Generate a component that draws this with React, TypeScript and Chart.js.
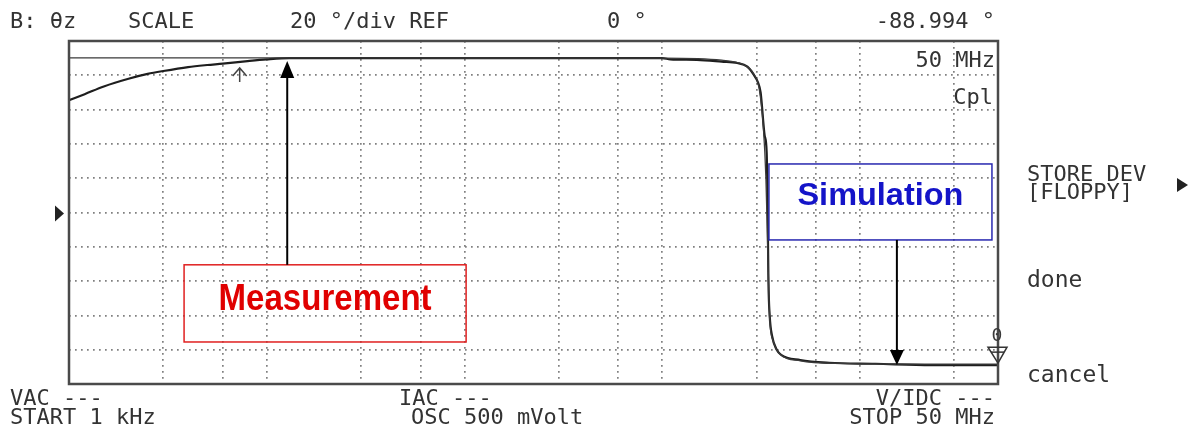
import React, { useEffect, useRef } from "react";
import { Chart, registerables } from "chart.js";

Chart.register(...registerables);

// ---- data (frequency in Hz, phase in degrees) ----
const measFreq = [
  1000, 1200, 1500, 2000, 2500, 3000, 4000, 5000, 6000, 8000, 10000, 13000, 20000,
  50000, 100000, 300000, 1000000, 1100000, 1500000, 2000000, 2400000, 2700000, 2900000,
  3050000, 3150000, 3300000, 3380000, 3420000, 3450000, 3500000, 3600000, 3800000,
  4000000, 5000000, 7000000, 12000000, 23000000, 50000000,
];
const measPhase = [
  65.5, 69, 73.5, 78, 80.8, 82.5, 84.8, 86, 86.8, 88.3, 89.3, 90, 90,
  90, 90, 90, 90, 89.3, 89, 88, 87.2, 85, 80.5,
  76, 70, 45, 35, 0, -40, -60, -72, -80,
  -83, -86, -87.6, -88.2, -89, -89,
];
const simFreq = [
  1000, 10000, 100000, 1000000, 2000000, 2600000, 2900000, 3100000, 3250000, 3350000,
  3420000, 3500000, 3650000, 3900000, 5000000, 8000000, 20000000, 50000000,
];
const simPhase = [
  90.2, 90.2, 90.1, 90, 88.8, 86, 81, 72, 50, 20,
  -20, -62, -75, -82, -86.5, -88, -88.4, -88.4,
];
const gridFreqs = [3e3, 6e3, 1e4, 3e4, 6e4, 1e5, 3e5, 6e5, 1e6, 3e6, 6e6, 1e7, 3e7];
const startFreq = 1e3;
const stopFreq = 5e7;
const phaseMin = -100;
const phaseMax = 100;
const phaseStep = 20;
const refPhase = 0;

// annotation anchors (data coordinates)
const measArrowFreq = 12700;
const measArrowTip = 88.3;
const measBox = { f0: 3820, f1: 102000, p0: -30.5, p1: -75.5 };
const simArrowFreq = 15400000;
const simArrowTip = -88.9;
const simBox = { f0: 3470000, f1: 46600000, p0: 28.3, p1: -16.0 };
const markerFreq = 7300;
const markerPhase = 84.3;

const MONO = '"DejaVu Sans Mono", monospace';
const SANS = '"Liberation Sans", Arial, sans-serif';

function fitText(ctx: CanvasRenderingContext2D, text: string, cx: number, baseline: number, width: number) {
  const w = ctx.measureText(text).width;
  ctx.save();
  ctx.translate(cx, baseline);
  ctx.scale(width / w, 1);
  ctx.textAlign = "center";
  ctx.fillText(text, 0, 0);
  ctx.restore();
}

const overlay = {
  id: "overlay",
  afterDraw(chart: any) {
    const { ctx, chartArea: a } = chart;
    const xs = chart.scales.x;
    const ys = chart.scales.y;
    ctx.save();

    // frame
    ctx.strokeStyle = "#4a4a4a";
    ctx.lineWidth = 2.5;
    ctx.strokeRect(a.left, a.top, a.right - a.left, a.bottom - a.top);

    // instrument texts
    ctx.fillStyle = "#333";
    ctx.textBaseline = "alphabetic";
    ctx.font = `22px ${MONO}`;
    ctx.textAlign = "left";
    ctx.fillText("B: θz", 10, 28);
    ctx.fillText("SCALE", 128, 28);
    ctx.fillText("20 °/div REF", 290, 28);
    ctx.fillText("0 °", 607, 28);
    ctx.textAlign = "right";
    ctx.fillText("-88.994 °", 995, 28);

    ctx.textAlign = "left";
    ctx.fillText("VAC ---", 10, 405);
    ctx.fillText("START 1 kHz", 10, 424);
    ctx.fillText("IAC ---", 399, 405);
    ctx.fillText("OSC 500 mVolt", 411, 424);
    ctx.textAlign = "right";
    ctx.fillText("V/IDC ---", 995, 405);
    ctx.fillText("STOP 50 MHz", 995, 424);

    ctx.fillText("50 MHz", 995, 67);
    ctx.fillText("Cpl", 993, 104);

    ctx.textAlign = "left";
    ctx.fillText("STORE DEV", 1027, 181);
    ctx.fillText("[FLOPPY]", 1027, 199);
    ctx.font = `23px ${MONO}`;
    ctx.fillText("done", 1027, 287);
    ctx.fillText("cancel", 1027, 382);

    // right menu arrow
    ctx.fillStyle = "#222";
    ctx.beginPath();
    ctx.moveTo(1177, 178);
    ctx.lineTo(1177, 192);
    ctx.lineTo(1188, 185);
    ctx.closePath();
    ctx.fill();

    // reference marker (left)
    const yRef = ys.getPixelForValue(refPhase);
    ctx.beginPath();
    ctx.moveTo(55, yRef - 7);
    ctx.lineTo(55, yRef + 9);
    ctx.lineTo(64, yRef + 1);
    ctx.closePath();
    ctx.fill();

    // right-hand marker "0" and triangle at final value
    const yEnd = ys.getPixelForValue(measPhase[measPhase.length - 1]);
    ctx.fillStyle = "#3a3a3a";
    ctx.font = `18px ${MONO}`;
    ctx.textAlign = "center";
    ctx.fillText("0", a.right - 1, yEnd - 24);
    ctx.strokeStyle = "#333";
    ctx.lineWidth = 1.5;
    ctx.beginPath();
    ctx.moveTo(a.right - 10, yEnd - 18);
    ctx.lineTo(a.right + 9, yEnd - 18);
    ctx.lineTo(a.right, yEnd - 2);
    ctx.closePath();
    ctx.stroke();
    ctx.beginPath();
    ctx.moveTo(a.right - 7, yEnd - 13);
    ctx.lineTo(a.right + 6, yEnd - 13);
    ctx.stroke();

    // small marker arrow on trace
    const mx = xs.getPixelForValue(markerFreq);
    const my = ys.getPixelForValue(markerPhase);
    ctx.strokeStyle = "#444";
    ctx.lineWidth = 1.5;
    ctx.beginPath();
    ctx.moveTo(mx, my);
    ctx.lineTo(mx, my + 14);
    ctx.moveTo(mx - 7, my + 8);
    ctx.lineTo(mx, my);
    ctx.lineTo(mx + 7, my + 8);
    ctx.stroke();

    // Measurement annotation
    const mbx0 = xs.getPixelForValue(measBox.f0);
    const mbx1 = xs.getPixelForValue(measBox.f1);
    const mby0 = ys.getPixelForValue(measBox.p0);
    const mby1 = ys.getPixelForValue(measBox.p1);
    ctx.strokeStyle = "#e02020";
    ctx.lineWidth = 1.5;
    ctx.strokeRect(mbx0, mby0, mbx1 - mbx0, mby1 - mby0);
    ctx.fillStyle = "#e00000";
    ctx.font = `bold 37px ${SANS}`;
    fitText(ctx, "Measurement", (mbx0 + mbx1) / 2, mby0 + 45, 213);

    const max = xs.getPixelForValue(measArrowFreq);
    const matip = ys.getPixelForValue(measArrowTip);
    ctx.strokeStyle = "#000";
    ctx.lineWidth = 2;
    ctx.beginPath();
    ctx.moveTo(max, mby0);
    ctx.lineTo(max, matip + 12);
    ctx.stroke();
    ctx.fillStyle = "#000";
    ctx.beginPath();
    ctx.moveTo(max, matip);
    ctx.lineTo(max - 7, matip + 17);
    ctx.lineTo(max + 7, matip + 17);
    ctx.closePath();
    ctx.fill();

    // Simulation annotation
    const sbx0 = xs.getPixelForValue(simBox.f0);
    const sbx1 = xs.getPixelForValue(simBox.f1);
    const sby0 = ys.getPixelForValue(simBox.p0);
    const sby1 = ys.getPixelForValue(simBox.p1);
    ctx.strokeStyle = "#2828b0";
    ctx.lineWidth = 1.5;
    ctx.strokeRect(sbx0, sby0, sbx1 - sbx0, sby1 - sby0);
    ctx.fillStyle = "#1414c8";
    ctx.font = `bold 31px ${SANS}`;
    fitText(ctx, "Simulation", (sbx0 + sbx1) / 2, sby0 + 41, 166);

    const sax = xs.getPixelForValue(simArrowFreq);
    const satip = ys.getPixelForValue(simArrowTip);
    ctx.strokeStyle = "#000";
    ctx.lineWidth = 2;
    ctx.beginPath();
    ctx.moveTo(sax, sby1);
    ctx.lineTo(sax, satip - 10);
    ctx.stroke();
    ctx.fillStyle = "#000";
    ctx.beginPath();
    ctx.moveTo(sax, satip);
    ctx.lineTo(sax - 7, satip - 15);
    ctx.lineTo(sax + 7, satip - 15);
    ctx.closePath();
    ctx.fill();

    ctx.restore();
  },
};

export default function App() {
  const ref = useRef<HTMLCanvasElement | null>(null);

  useEffect(() => {
    if (!ref.current) return;
    const chart = new Chart(ref.current, {
      type: "line",
      data: {
        datasets: [
          {
            label: "Simulation",
            data: simFreq.map((f, i) => ({ x: f, y: simPhase[i] })),
            borderColor: "#3a3a3a",
            borderWidth: 1.3,
            pointRadius: 0,
            cubicInterpolationMode: "monotone",
          },
          {
            label: "Measurement",
            data: measFreq.map((f, i) => ({ x: f, y: measPhase[i] })),
            borderColor: "#1e1e1e",
            borderWidth: 2.2,
            pointRadius: 0,
            cubicInterpolationMode: "monotone",
          },
        ],
      },
      options: {
        animation: false,
        responsive: false,
        layout: { padding: { left: 69, top: 41, right: 195, bottom: 49 } },
        plugins: { legend: { display: false }, tooltip: { enabled: false } },
        scales: {
          x: {
            type: "logarithmic",
            min: startFreq,
            max: stopFreq,
            afterBuildTicks: (s: any) => {
              s.ticks = gridFreqs.map((v) => ({ value: v }));
            },
            afterFit: (s: any) => {
              s.height = 0;
            },
            ticks: { display: false },
            grid: { color: "#808080", lineWidth: 1.7, drawTicks: false },
            border: { display: false, dash: [1.7, 4.3] },
          },
          y: {
            type: "linear",
            min: phaseMin,
            max: phaseMax,
            ticks: { display: false, stepSize: phaseStep },
            afterFit: (s: any) => {
              s.width = 0;
            },
            grid: { color: "#808080", lineWidth: 1.7, drawTicks: false },
            border: { display: false, dash: [1.7, 4.3] },
          },
        },
      },
      plugins: [overlay],
    });
    return () => chart.destroy();
  }, []);

  return (
    <div style={{ position: "fixed", left: 0, top: 0, width: 1193, height: 433, background: "#fff" }}>
      <canvas ref={ref} width={1193} height={433} style={{ display: "block" }} />
    </div>
  );
}
